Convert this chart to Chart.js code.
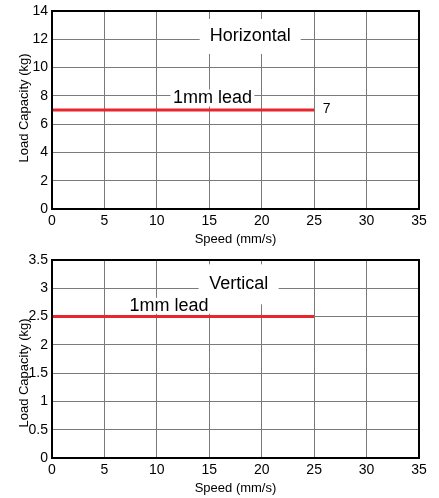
<!DOCTYPE html>
<html>
<head>
<script src="https://cdn.jsdelivr.net/npm/chart.js@4.4.1/dist/chart.umd.min.js"></script>
<style>
  body { margin: 0; background: #fff; }
  .box { position: absolute; left: 0; width: 439px; }
</style>
</head>
<body>
<div class="box" style="top:0; height:248px;"><canvas id="hChart"></canvas></div>
<div class="box" style="top:249px; height:249px;"><canvas id="vChart"></canvas></div>
<script>
// data
const hSpeed = [0, 25];      // mm/s
const hLoad = [7, 7];        // kg, horizontal, 1mm lead
const vSpeed = [0, 25];
const vLoad = [2.5, 2.5];    // kg, vertical, 1mm lead
const speedMax = 35, speedStep = 5;
const hLoadMax = 14, hLoadStep = 2;
const vLoadMax = 3.5, vLoadStep = 0.5;

const FONT = "'Liberation Sans', Arial, Helvetica, sans-serif";
const Y_TITLE = 'Load Capacity (kg)';

// text labels inside the plot, white box behind (covers the grid)
const boxLabels = {
  id: 'boxLabels',
  beforeDatasetsDraw(chart, args, opts) {
    const ctx = chart.ctx, xs = chart.scales.x, ys = chart.scales.y;
    opts.items.forEach(it => {
      const px = xs.getPixelForValue(it.x), py = ys.getPixelForValue(it.y);
      ctx.save();
      ctx.font = it.font;
      if (it.box) {
        ctx.fillStyle = '#fff';
        ctx.fillRect(px - it.box[0] / 2, py - it.box[1] / 2, it.box[0], it.box[1]);
      }
      ctx.fillStyle = '#000';
      ctx.textAlign = 'center';
      ctx.textBaseline = 'middle';
      ctx.fillText(it.text, px, py);
      ctx.restore();
    });
  },
  afterDraw(chart, args, opts) {
    const a = chart.chartArea, ctx = chart.ctx;
    ctx.save();
    // black frame round the plot
    ctx.strokeStyle = '#000';
    ctx.lineWidth = 2;
    ctx.strokeRect(a.left, a.top, a.right - a.left, a.bottom - a.top);
    // y title, sits a bit off centre in the bottom chart
    ctx.translate(24, (a.top + a.bottom) / 2 + opts.yTitleShift);
    ctx.rotate(-Math.PI / 2);
    ctx.font = '13px ' + FONT;
    ctx.fillStyle = '#000';
    ctx.textAlign = 'center';
    ctx.textBaseline = 'middle';
    ctx.fillText(Y_TITLE, 0, 0);
    ctx.restore();
  }
};

function makeChart(id, speeds, loads, yMax, yStep, items, xAxisH, xTitlePad, yTitleShift) {
  return new Chart(document.getElementById(id), {
    type: 'scatter',
    data: {
      datasets: [{
        data: speeds.map((s, i) => ({ x: s, y: loads[i] })),
        showLine: true,
        borderColor: '#e8262d',
        borderWidth: 3,
        pointRadius: 0
      }]
    },
    options: {
      responsive: true,
      maintainAspectRatio: false,
      animation: false,
      layout: { padding: { top: 7, right: 20, left: 0, bottom: 0 } },
      scales: {
        x: {
          type: 'linear', min: 0, max: speedMax,
          ticks: { stepSize: speedStep, color: '#000', padding: 5, font: { family: FONT, size: 14, lineHeight: 1 } },
          grid: { color: '#7a7a7a', lineWidth: 1, drawTicks: false },
          border: { display: false },
          title: { display: true, text: 'Speed (mm/s)', color: '#000', padding: { top: 0, bottom: xTitlePad }, font: { family: FONT, size: 13 } },
          afterFit: s => { s.height = xAxisH; }
        },
        y: {
          min: 0, max: yMax,
          ticks: { stepSize: yStep, color: '#000', padding: 4, font: { family: FONT, size: 14, lineHeight: 1 },
                   callback: v => String(v) },
          grid: { color: '#7a7a7a', lineWidth: 1, drawTicks: false },
          border: { display: false },
          afterFit: s => { s.width = 52; }
        }
      },
      plugins: {
        legend: { display: false },
        tooltip: { enabled: false },
        boxLabels: { items: items, yTitleShift: yTitleShift }
      }
    },
    plugins: [boxLabels]
  });
}

makeChart('hChart', hSpeed, hLoad, hLoadMax, hLoadStep, [
  { text: 'Horizontal', x: 18.9, y: 12.2, font: '18px ' + FONT, box: [101, 35] },
  { text: '1mm lead', x: 15.3, y: 7.85, font: '18px ' + FONT, box: [84, 17] },
  { text: '7', x: 26.2, y: 7.05, font: '14px ' + FONT }
], 39, 1, -2);

makeChart('vChart', vSpeed, vLoad, vLoadMax, vLoadStep, [
  { text: 'Vertical', x: 17.8, y: 3.07, font: '18px ' + FONT, box: [80, 40] },
  { text: '1mm lead', x: 11.16, y: 2.69, font: '18px ' + FONT, box: [86, 16] }
], 40, 2, 14);
</script>
</body>
</html>
